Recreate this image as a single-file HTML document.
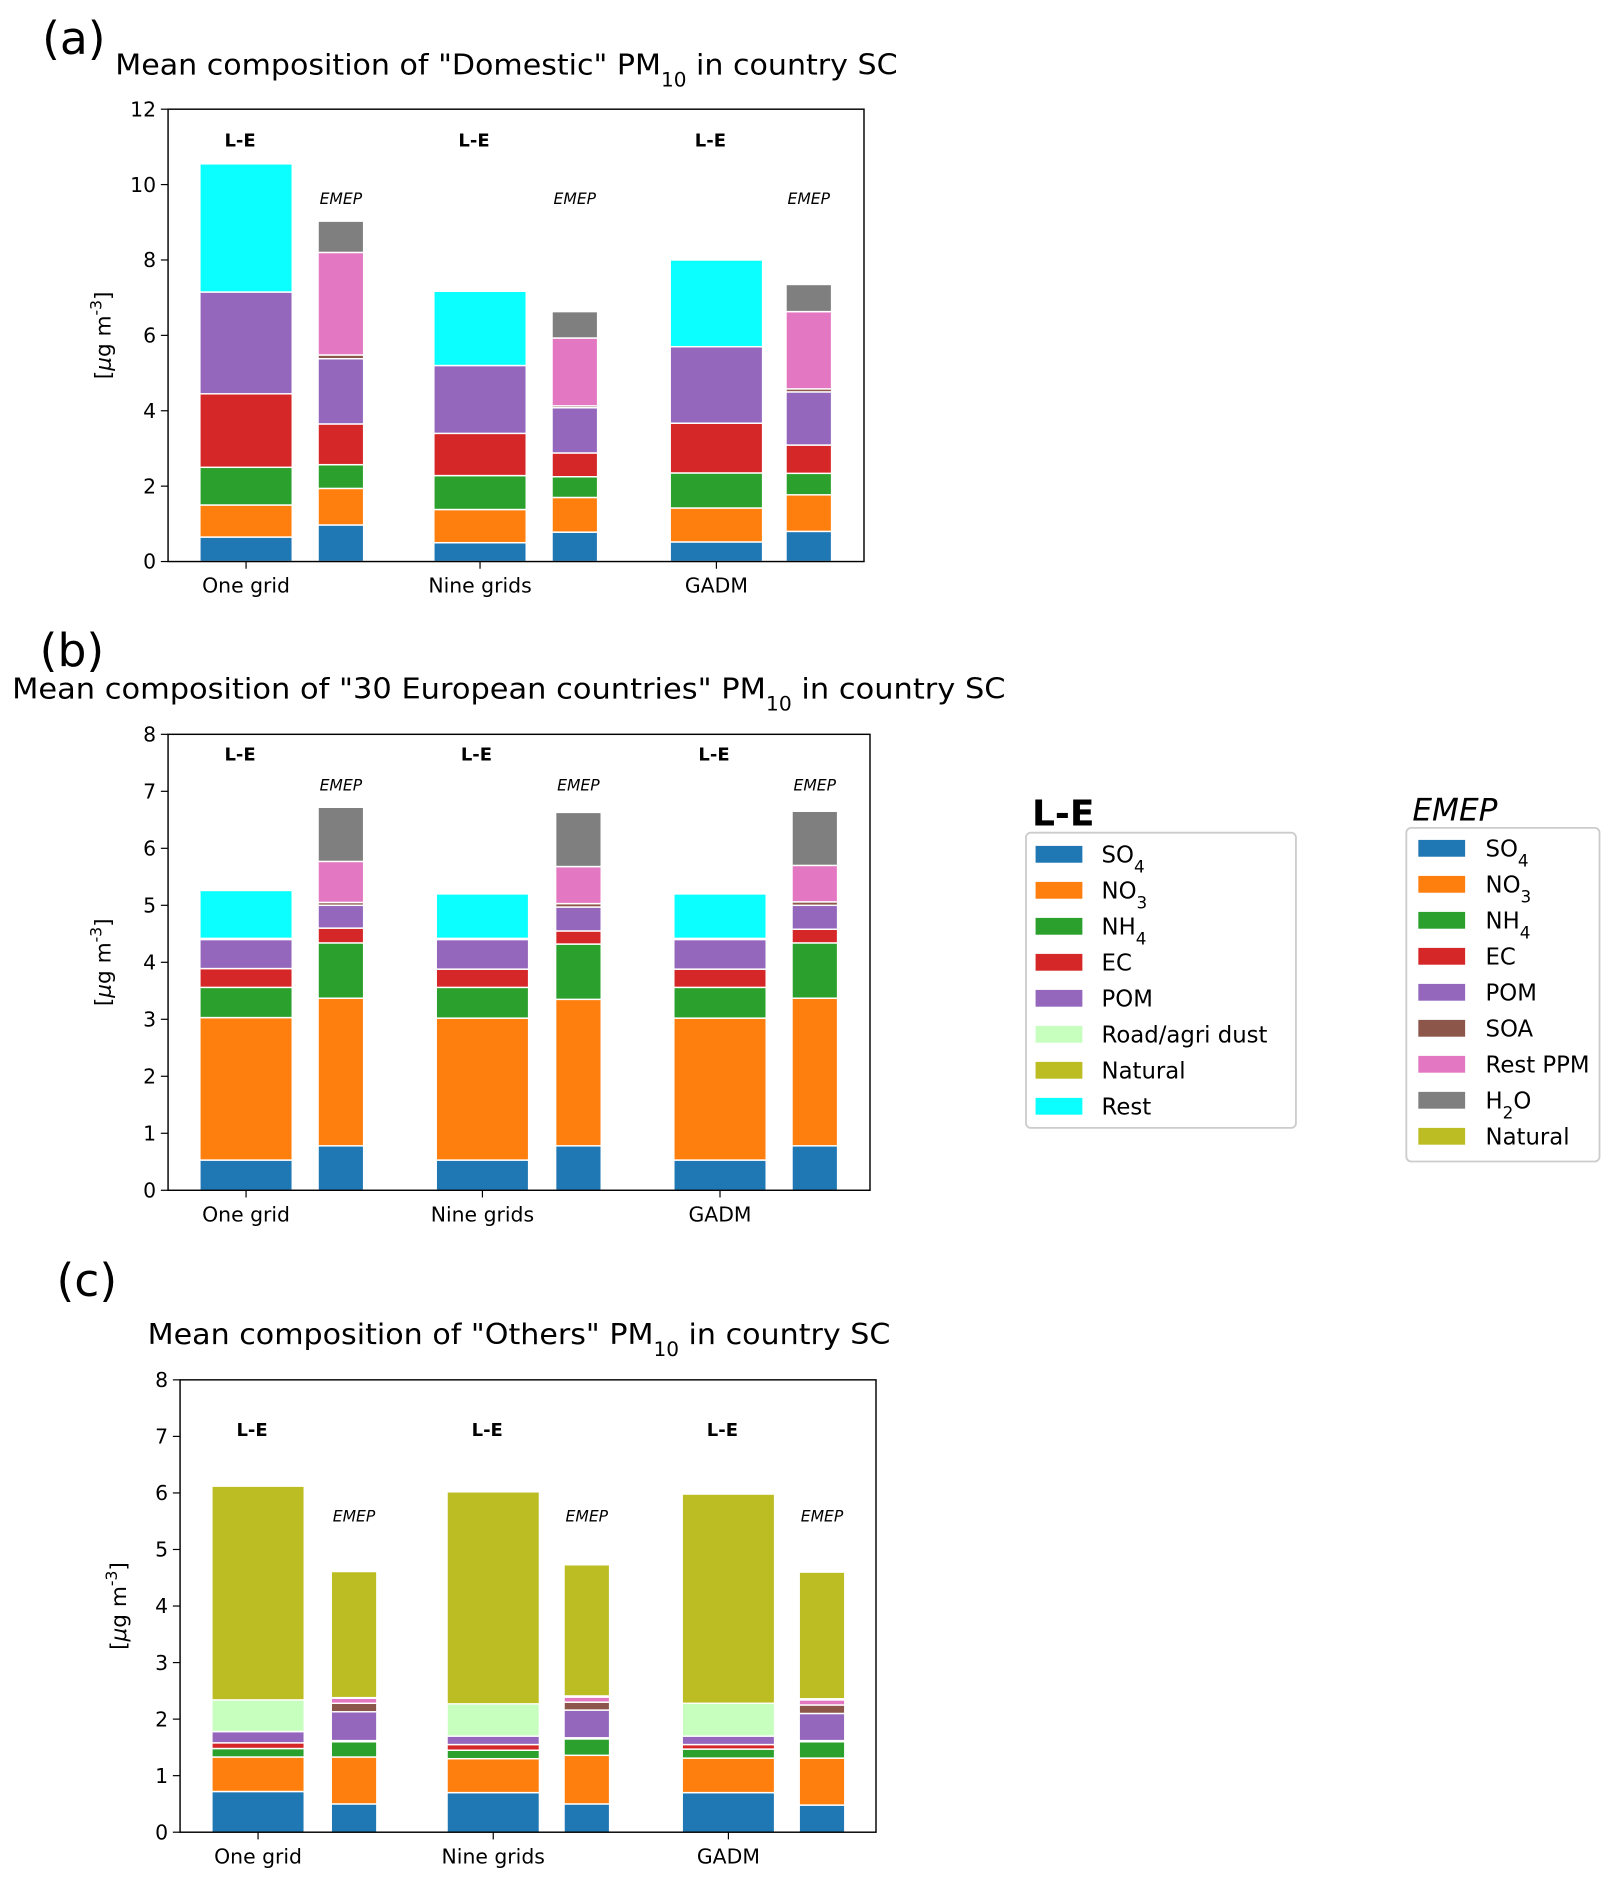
<!DOCTYPE html>
<html><head><meta charset="utf-8"><style>
html,body{margin:0;padding:0;background:#fff}
svg{display:block;font-family:"DejaVu Sans","Liberation Sans",sans-serif}
</style></head><body>
<svg id="fig" width="1620" height="1885" viewBox="0 0 1350 1571" xmlns="http://www.w3.org/2000/svg"></svg>
<script>
const groups = ["One grid","Nine grids","GADM"];
const leComponents = ["SO4","NO3","NH4","EC","POM","Road/agri dust","Natural","Rest"];
const emepComponents = ["SO4","NO3","NH4","EC","POM","SOA","Rest PPM","H2O","Natural"];
const leColors = ["#1f77b4","#ff7f0e","#2ca02c","#d62728","#9467bd","#c7ffbf","#bcbd22","#0cffff"];
const emepColors = ["#1f77b4","#ff7f0e","#2ca02c","#d62728","#9467bd","#8c564b","#e377c2","#7f7f7f","#bcbd22"];
// panel (a) values
const aLE = [[0.65,0.85,1.0,1.95,2.7,0,0,3.4],[0.5,0.88,0.9,1.12,1.8,0,0,1.97],[0.52,0.9,0.93,1.32,2.03,0,0,2.3]];
const aEMEP = [[0.97,0.97,0.63,1.08,1.73,0.1,2.72,0.83,0],[0.78,0.92,0.55,0.63,1.2,0.05,1.8,0.7,0],[0.8,0.97,0.57,0.75,1.41,0.08,2.05,0.72,0]];
// panel (b) values
const bLE = [[0.53,2.5,0.53,0.33,0.51,0.02,0,0.84],[0.53,2.49,0.54,0.32,0.52,0.02,0,0.78],[0.53,2.49,0.54,0.32,0.52,0.02,0,0.78]];
const bEMEP = [[0.78,2.59,0.97,0.26,0.4,0.05,0.72,0.95,0],[0.78,2.57,0.97,0.23,0.42,0.06,0.65,0.95,0],[0.78,2.59,0.97,0.24,0.42,0.06,0.64,0.95,0]];
// panel (c) values
const cLE = [[0.72,0.61,0.15,0.1,0.2,0.56,3.78,0],[0.7,0.6,0.15,0.1,0.15,0.57,3.75,0],[0.7,0.61,0.16,0.08,0.15,0.58,3.7,0]];
const cEMEP = [[0.5,0.83,0.27,0.02,0.51,0.15,0.09,0.01,2.23],[0.5,0.86,0.29,0.02,0.49,0.14,0.09,0.02,2.32],[0.48,0.83,0.29,0.02,0.48,0.15,0.09,0.02,2.24]];
const aTicks = [0,2,4,6,8,10,12];
const bTicks = [0,1,2,3,4,5,6,7,8];
const cTicks = [0,1,2,3,4,5,6,7,8];

const NS="http://www.w3.org/2000/svg";
const svg=document.getElementById('fig');
function mk(tag,attrs,parent){const e=document.createElementNS(NS,tag);for(const k in attrs)e.setAttribute(k,attrs[k]);(parent||svg).appendChild(e);return e;}
function txt(s,attrs,parent){const e=mk('text',attrs,parent);e.innerHTML=s;return e;}

const panels=[
 {id:'a',le:aLE,em:aEMEP,ticks:aTicks,max:12,x0:140,x1:720,y0:91,y1:468,lab:'(a)',labx:35,laby:45,
  title:'Mean composition of "Domestic" PM<tspan baseline-shift="sub" font-size="16">10</tspan><tspan baseline-shift="0"> in country  SC</tspan>',tx:96,ty:62,tw:652,
  leX:[205,400,597],emX:[284,479,674],leTxtY:122,emTxtY:170,ylx:92},
 {id:'b',le:bLE,em:bEMEP,ticks:bTicks,max:8,x0:140,x1:725,y0:612,y1:992,lab:'(b)',labx:33,laby:555,
  title:'Mean composition of "30 European countries" PM<tspan baseline-shift="sub" font-size="16">10</tspan><tspan baseline-shift="0"> in country  SC</tspan>',tx:10,ty:582,tw:828,
  leX:[205,402,600],emX:[284,482,679],leTxtY:634,emTxtY:659,ylx:92},
 {id:'c',le:cLE,em:cEMEP,ticks:cTicks,max:8,x0:150,x1:730,y0:1150,y1:1527,lab:'(c)',labx:47,laby:1080,
  title:'Mean composition of "Others" PM<tspan baseline-shift="sub" font-size="16">10</tspan><tspan baseline-shift="0"> in country  SC</tspan>',tx:123,ty:1120,tw:619,
  leX:[215,411,607],emX:[295,489,685],leTxtY:1197,emTxtY:1268,ylx:105}
];

panels.forEach(p=>{
  const g=mk('g',{});
  
  
  const y=v=>p.y1-(v/p.max)*(p.y1-p.y0);
  const pl=txt(p.lab,{x:p.labx,y:p.laby,'font-size':38},g);
  
  
  const t=txt(p.title,{x:p.tx,y:p.ty,'font-size':24,textLength:p.tw,lengthAdjust:'spacingAndGlyphs'},g);
  
  
  const yl=txt('[<tspan font-style="italic">μ</tspan>g m<tspan baseline-shift="super" font-size="13">-3</tspan>]',{x:0,y:0,'font-size':18,'text-anchor':'middle',transform:`translate(${p.ylx},${(p.y0+p.y1)/2}) rotate(-90)`},g);
  
  
  function stack(vals,cx,w,colors,kind,gi){
    let c=0;
    vals.forEach((v,i)=>{
      if(v<=0){return;}
      const r=mk('rect',{x:cx-w/2,y:y(c+v),width:w,height:y(c)-y(c+v),fill:colors[i],stroke:'#fff','stroke-width':1.2},g);
      
      
      c+=v;
    });
  }
  p.le.forEach((vals,gi)=>{
    stack(vals,p.leX[gi],77,leColors,'le',gi);
    const a=txt('L-E',{x:p.leX[gi]-5,y:p.leTxtY,'font-size':15,'font-weight':'bold','text-anchor':'middle'},g);
    
    
    const gl=txt(groups[gi],{x:p.leX[gi],y:p.y1+26,'font-size':17,'text-anchor':'middle'},g);
    
    
    mk('line',{x1:p.leX[gi],x2:p.leX[gi],y1:p.y1,y2:p.y1+6,stroke:'#000','stroke-width':1},g);
  });
  p.em.forEach((vals,gi)=>{
    stack(vals,p.emX[gi],38,emepColors,'emep',gi);
    const a=txt('EMEP',{x:p.emX[gi],y:p.emTxtY,'font-size':13,'font-style':'italic','text-anchor':'middle'},g);
    
    
  });
  p.ticks.forEach(v=>{
    mk('line',{x1:p.x0-6,x2:p.x0,y1:y(v),y2:y(v),stroke:'#000','stroke-width':1},g);
    const tl=txt(String(v),{x:p.x0-10,y:y(v)+6,'font-size':17,'text-anchor':'end'},g);
    
    
  });
  const fr=mk('rect',{x:p.x0,y:p.y0,width:p.x1-p.x0,height:p.y1-p.y0,fill:'none',stroke:'#000','stroke-width':1.2},g);
  
  
});

function subLabel(s){return s.replace(/(SO|NO|NH)(\d)/,'$1<tspan baseline-shift="sub" font-size="14">$2</tspan>').replace('H2O','H<tspan baseline-shift="sub" font-size="14">2</tspan><tspan baseline-shift="0">O</tspan>');}
function legend(title,bold,names,colors,bx,by,bw,bh,rowY,px,tx,key){
  const g=mk('g',{});
  
  
  const tt=txt(title,{x:bx+5,y:by-6,'font-size':bold?30:26,'font-weight':bold?'bold':'normal','font-style':bold?'normal':'italic'},g);
  
  
  mk('rect',{x:bx,y:by,width:bw,height:bh,rx:4,fill:'#fff',stroke:'#ccc','stroke-width':1.5},g);
  names.forEach((n,i)=>{
    const e=mk('g',{},g);
    
    
    mk('rect',{x:px,y:rowY+i*30-7,width:39,height:14,fill:colors[i]},e);
    txt(subLabel(n),{x:tx,y:rowY+i*30+7,'font-size':19},e);
  });
}
legend('L-E',true,leComponents,leColors,855,694,225,246,712,863,918,'le');
legend('EMEP',false,emepComponents,emepColors,1172,690,161,278,707,1182,1238,'emep');
</script>
</body></html>
